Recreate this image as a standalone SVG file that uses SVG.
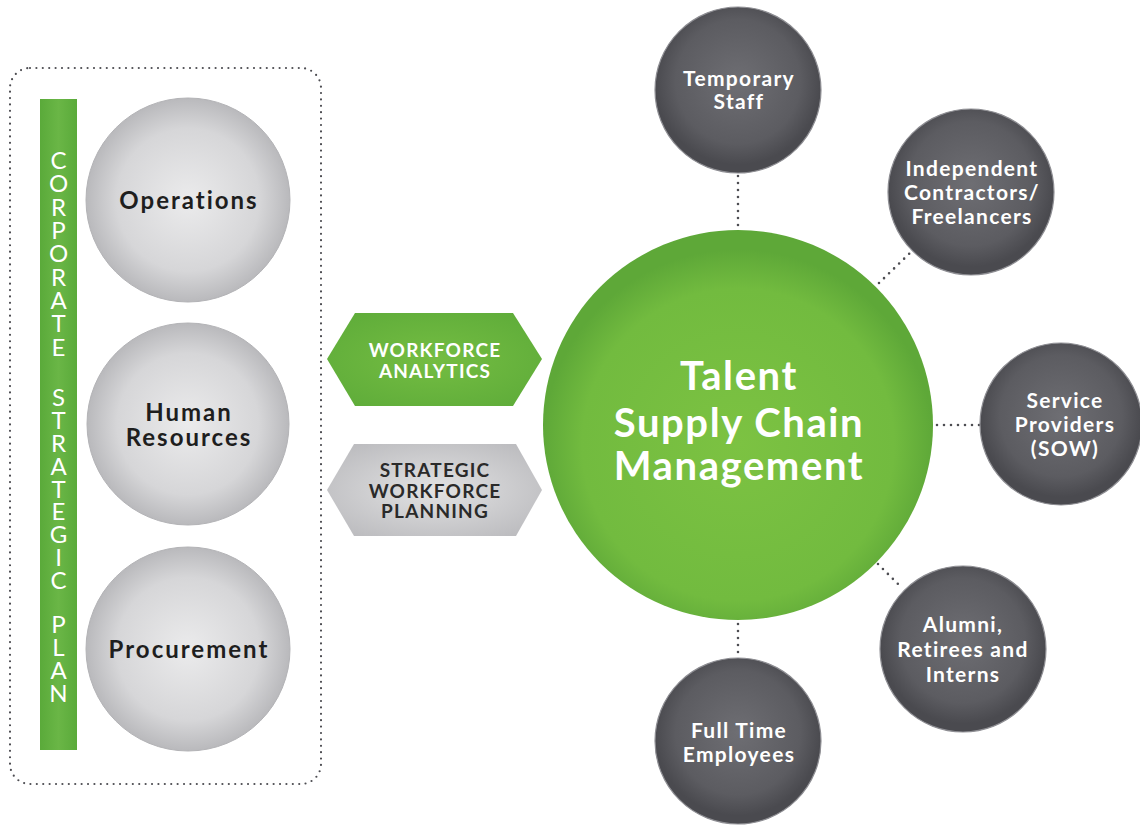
<svg xmlns="http://www.w3.org/2000/svg" width="1140" height="825" viewBox="0 0 1140 825">
  <defs>
    <radialGradient id="gLight" cx="50%" cy="50%" r="50%">
      <stop offset="0" stop-color="#ebebec"/>
      <stop offset="0.7" stop-color="#d6d6d8"/>
      <stop offset="1" stop-color="#b9b9bc"/>
    </radialGradient>
    <radialGradient id="gDark" cx="50%" cy="45%" r="50%">
      <stop offset="0" stop-color="#6e6e73"/>
      <stop offset="0.75" stop-color="#5c5c61"/>
      <stop offset="1" stop-color="#4a4a4f"/>
    </radialGradient>
    <radialGradient id="gGreen" cx="50%" cy="55%" r="50%">
      <stop offset="0" stop-color="#7cc242"/>
      <stop offset="0.8" stop-color="#72bb3f"/>
      <stop offset="1" stop-color="#5ea838"/>
    </radialGradient>
    <linearGradient id="gBar" x1="0" y1="0" x2="1" y2="0">
      <stop offset="0" stop-color="#5aaa3a"/>
      <stop offset="0.5" stop-color="#6ab646"/>
      <stop offset="1" stop-color="#5aaa3a"/>
    </linearGradient>
    <radialGradient id="gHexGreen" cx="50%" cy="50%" r="60%">
      <stop offset="0" stop-color="#74bd42"/>
      <stop offset="1" stop-color="#60ad3a"/>
    </radialGradient>
    <radialGradient id="gHexGray" cx="50%" cy="50%" r="60%">
      <stop offset="0" stop-color="#e2e2e3"/>
      <stop offset="1" stop-color="#bdbdc0"/>
    </radialGradient>
  </defs>
  <style>
    .dots { fill: none; stroke: #4d4d52; stroke-width: 2.6; stroke-linecap: round; stroke-dasharray: 0 7; }
    .frame { fill: none; stroke: #4d4d52; stroke-width: 2.2; stroke-linecap: round; stroke-dasharray: 0 6.4; }
    .light { fill: url(#gLight); stroke: #b3b3b6; stroke-width: 1; }
    .dark { fill: url(#gDark); stroke: #8e8e93; stroke-width: 1.2; }
    text { font-family: Lato, "Liberation Sans", sans-serif; text-anchor: middle; }
    .lbl-dark { font-weight: 700; font-size: 24px; letter-spacing: 2px; fill: #1e1e1e; }
    .lbl-white { font-weight: 700; font-size: 21px; letter-spacing: 1.3px; fill: #ffffff; }
    .hex-text { font-weight: 700; font-size: 19px; letter-spacing: 1.2px; }
    .bar-text { font-weight: 400; font-size: 24px; fill: #ffffff; }
    .hub-text { font-weight: 700; font-size: 40px; letter-spacing: 1.6px; fill: #ffffff; }
  </style>

  <rect width="1140" height="825" fill="#ffffff"/>

  <!-- corporate strategic plan frame -->
  <g id="plan-frame">
    <rect class="frame" x="10" y="68" width="311" height="716" rx="20" ry="20"/>
  </g>

  <!-- vertical green bar with stacked letters -->
  <g id="corporate-strategic-plan">
    <rect x="40" y="99" width="37" height="651" fill="url(#gBar)"/>
    <g class="bar-text">
      <text x="58.5" y="169">C</text>
      <text x="58.5" y="192">O</text>
      <text x="58.5" y="216">R</text>
      <text x="58.5" y="239">P</text>
      <text x="58.5" y="262">O</text>
      <text x="58.5" y="286">R</text>
      <text x="58.5" y="309">A</text>
      <text x="58.5" y="332">T</text>
      <text x="58.5" y="356">E</text>
      <text x="58.5" y="406">S</text>
      <text x="58.5" y="429">T</text>
      <text x="58.5" y="452">R</text>
      <text x="58.5" y="475">A</text>
      <text x="58.5" y="498">T</text>
      <text x="58.5" y="520">E</text>
      <text x="58.5" y="543">G</text>
      <text x="58.5" y="566">I</text>
      <text x="58.5" y="589">C</text>
      <text x="58.5" y="633">P</text>
      <text x="58.5" y="656">L</text>
      <text x="58.5" y="679">A</text>
      <text x="58.5" y="702">N</text>
    </g>
  </g>

  <!-- functional circles -->
  <g id="operations">
    <circle class="light" cx="188" cy="200" r="102"/>
    <text class="lbl-dark" x="189" y="209">Operations</text>
  </g>
  <g id="human-resources">
    <circle class="light" cx="188" cy="424" r="101"/>
    <text class="lbl-dark" x="189" y="421">Human</text>
    <text class="lbl-dark" x="189" y="446">Resources</text>
  </g>
  <g id="procurement">
    <circle class="light" cx="188" cy="649" r="102"/>
    <text class="lbl-dark" x="189" y="658">Procurement</text>
  </g>

  <!-- hexagon tags -->
  <g id="workforce-analytics">
    <polygon points="327,359 355,313 513,313 542,359 513,406 355,406" fill="url(#gHexGreen)"/>
    <text class="hex-text" x="435" y="357" fill="#ffffff">WORKFORCE</text>
    <text class="hex-text" x="435" y="378" fill="#ffffff">ANALYTICS</text>
  </g>
  <g id="strategic-workforce-planning">
    <polygon points="327,490 354,444 516,444 542,490 516,536 354,536" fill="url(#gHexGray)"/>
    <text class="hex-text" x="435" y="477" fill="#2a2a2a">STRATEGIC</text>
    <text class="hex-text" x="435" y="498" fill="#2a2a2a">WORKFORCE</text>
    <text class="hex-text" x="435" y="518" fill="#2a2a2a">PLANNING</text>
  </g>

  <!-- dotted links from the hub -->
  <g id="connectors">
    <line class="dots" x1="738" y1="176" x2="738" y2="226"/>
    <line class="dots" x1="879" y1="283" x2="911" y2="252"/>
    <line class="dots" x1="937" y1="425" x2="980" y2="425"/>
    <line class="dots" x1="878" y1="564" x2="902" y2="588"/>
    <line class="dots" x1="738" y1="624" x2="738" y2="656"/>
  </g>

  <!-- hub -->
  <g id="talent-supply-chain">
    <circle cx="738" cy="425" r="195" fill="url(#gGreen)"/>
    <text class="hub-text" x="739" y="390">Talent</text>
    <text class="hub-text" x="739" y="437">Supply Chain</text>
    <text class="hub-text" x="739" y="480">Management</text>
  </g>

  <!-- talent sources -->
  <g id="temporary-staff">
    <circle class="dark" cx="738" cy="90" r="83"/>
    <text class="lbl-white" x="739" y="86">Temporary</text>
    <text class="lbl-white" x="739" y="109">Staff</text>
  </g>
  <g id="independent-contractors">
    <circle class="dark" cx="971" cy="192" r="83"/>
    <text class="lbl-white" x="972" y="176">Independent</text>
    <text class="lbl-white" x="972" y="200">Contractors/</text>
    <text class="lbl-white" x="972" y="224">Freelancers</text>
  </g>
  <g id="service-providers">
    <circle class="dark" cx="1061" cy="424" r="81"/>
    <text class="lbl-white" x="1065" y="408">Service</text>
    <text class="lbl-white" x="1065" y="432">Providers</text>
    <text class="lbl-white" x="1065" y="456">(SOW)</text>
  </g>
  <g id="alumni-retirees-interns">
    <circle class="dark" cx="963" cy="649" r="83"/>
    <text class="lbl-white" x="963" y="632">Alumni,</text>
    <text class="lbl-white" x="963" y="657">Retirees and</text>
    <text class="lbl-white" x="963" y="682">Interns</text>
  </g>
  <g id="full-time-employees">
    <circle class="dark" cx="738" cy="741" r="83"/>
    <text class="lbl-white" x="739" y="738">Full Time</text>
    <text class="lbl-white" x="739" y="762">Employees</text>
  </g>
</svg>
